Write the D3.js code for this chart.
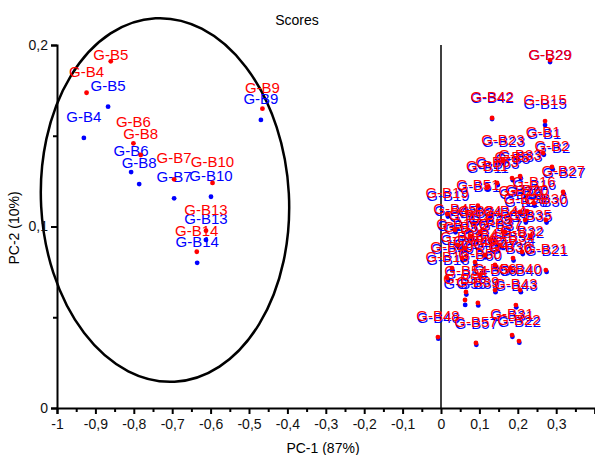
<!DOCTYPE html>
<html><head><meta charset="utf-8">
<script src="https://cdn.jsdelivr.net/npm/d3@7"></script>
<style>
html,body{margin:0;padding:0;background:#fff;}
svg{display:block;font-family:"Liberation Sans",Arial,sans-serif;}
</style></head>
<body>
<svg id="chart" width="595" height="455"></svg>
<script>
const samples = ["G-B4","G-B5","G-B6","G-B7","G-B8","G-B9","G-B10","G-B13","G-B14",
 "G-B1","G-B2","G-B3","G-B11","G-B12","G-B15","G-B16","G-B17","G-B18","G-B19","G-B20",
 "G-B21","G-B22","G-B23","G-B24","G-B25","G-B26","G-B27","G-B28","G-B29","G-B30",
 "G-B31","G-B32","G-B33","G-B34","G-B35","G-B36","G-B37","G-B38","G-B39","G-B40",
 "G-B41","G-B42","G-B43","G-B44","G-B45","G-B46","G-B47","G-B48","G-B49","G-B50",
 "G-B51","G-B52","G-B53","G-B54","G-B55","G-B56","G-B57"];
const redPC1 = [-0.923,-0.860,-0.801,-0.695,-0.782,-0.465,-0.595,-0.612,-0.636,
 0.266,0.289,0.185,0.120,0.0755,0.271,0.242,0.044,0.016,0.016,0.224,
 0.273,0.203,0.161,0.1016,0.1276,0.206,0.318,0.219,0.284,0.273,
 0.185,0.211,0.206,0.1875,0.232,0.180,0.154,0.0547,0.096,0.206,
 0.1146,0.133,0.195,0.1667,0.0365,0.0885,0.1406,-0.008,0.0286,0.1016,
 0.096,0.0625,0.146,0.065,0.0625,0.1406,0.091];
const redPC2 = [0.1737,0.1910,0.1458,0.1260,0.1394,0.1649,0.1240,0.0977,0.0861,
 0.1405,0.1328,0.1267,0.1218,0.0948,0.1581,0.1129,0.0898,0.0716,0.1069,0.1085,
 0.0760,0.0369,0.1361,0.0970,0.0926,0.1080,0.1190,0.1036,0.1917,0.1036,
 0.0402,0.0860,0.1278,0.0826,0.0948,0.0771,0.0898,0.0826,0.0579,0.0650,
 0.0843,0.1598,0.0567,0.0970,0.0981,0.0804,0.0788,0.0391,0.0771,0.0733,
 0.1115,0.0882,0.1240,0.0639,0.0595,0.0650,0.0358];
const bluePC1 = [-0.930,-0.867,-0.807,-0.695,-0.786,-0.469,-0.599,-0.612,-0.635,
 0.268,0.291,0.187,0.122,0.077,0.271,0.244,0.046,0.018,0.018,0.226,
 0.275,0.204,0.163,0.103,0.129,0.208,0.320,0.221,0.284,0.275,
 0.186,0.213,0.208,0.189,0.234,0.182,0.156,0.056,0.097,0.208,
 0.116,0.133,0.196,0.168,0.038,0.090,0.142,-0.007,0.030,0.103,
 0.098,0.064,0.148,0.066,0.063,0.142,0.092];
const bluePC2 = [0.1488,0.1660,0.1300,0.1155,0.1234,0.1587,0.1164,0.0926,0.0800,
 0.1395,0.1315,0.1255,0.1205,0.0935,0.1559,0.1115,0.0885,0.0700,0.1055,0.1072,
 0.0750,0.0360,0.1350,0.0958,0.0912,0.1066,0.1178,0.1022,0.1906,0.1022,
 0.0392,0.0848,0.1265,0.0812,0.0935,0.0758,0.0885,0.0812,0.0565,0.0638,
 0.0830,0.1592,0.0555,0.0958,0.0968,0.0790,0.0775,0.0382,0.0758,0.0720,
 0.1102,0.0868,0.1228,0.0625,0.0568,0.0638,0.0348];
const xTicks = [-1,-0.9,-0.8,-0.7,-0.6,-0.5,-0.4,-0.3,-0.2,-0.1,0,0.1,0.2,0.3];
const xMinor = [-0.95,-0.85,-0.75,-0.65,-0.55,-0.45,-0.35,-0.25,-0.15,-0.05,0.05,0.15,0.25,0.35];
const yTicks = [0,0.1,0.2];
const yMinor = [0.05,0.15];

const svg = d3.select("#chart");
const x = d3.scaleLinear().domain([-1,0.4]).range([57,594.6]);
const y = d3.scaleLinear().domain([0,0.2]).range([408,45]);
const fmt = d => Math.abs(d-Math.round(d))<1e-9 ? String(Math.round(d)) : d.toFixed(1).replace(".",",");

// ellipse
svg.append("ellipse")
  .attr("cx",165).attr("cy",200).attr("rx",124).attr("ry",182)
  .attr("transform","rotate(-3,165,200)")
  .attr("fill","none").attr("stroke","#000").attr("stroke-width",2.5);

// zero vertical line
svg.append("line").attr("x1",x(0)).attr("x2",x(0)).attr("y1",y(0.2)).attr("y2",y(0))
  .attr("stroke","#000").attr("stroke-width",1.5);

// x axis
svg.append("g").attr("transform",`translate(0,${y(0)})`)
  .call(d3.axisBottom(x).tickValues(xTicks).tickFormat(fmt).tickSizeOuter(0).tickSize(6).tickPadding(5));
svg.append("g").attr("transform",`translate(0,${y(0)})`)
  .call(d3.axisBottom(x).tickValues(xMinor).tickFormat("").tickSizeOuter(0).tickSize(4))
  .select(".domain").remove();
// y axis
svg.append("g").attr("transform",`translate(${x(-1)},0)`)
  .call(d3.axisLeft(y).tickValues(yTicks).tickFormat(fmt).tickSizeOuter(0).tickSize(6).tickPadding(3));
svg.append("g").attr("transform",`translate(${x(-1)},0)`)
  .call(d3.axisLeft(y).tickValues(yMinor).tickFormat("").tickSizeOuter(0).tickSize(4))
  .select(".domain").remove();
svg.selectAll(".domain").attr("stroke","#000").attr("stroke-width",2);
svg.selectAll(".tick line").attr("stroke","#000").attr("stroke-width",2);
svg.selectAll(".tick text").attr("font-size",14).attr("fill","#111")
  .attr("font-family","'Liberation Sans',Arial,sans-serif");

// titles
svg.append("text").attr("x",297).attr("y",25).attr("text-anchor","middle")
  .attr("font-size",14).text("Scores");
svg.append("text").attr("x",323).attr("y",453).attr("text-anchor","middle")
  .attr("font-size",14).text("PC-1 (87%)");
svg.append("text").attr("transform","translate(19,228) rotate(-90)").attr("text-anchor","middle")
  .attr("font-size",14).text("PC-2 (10%)");

function drawSeries(xs, ys, color){
  const g = svg.append("g");
  const data = samples.map((s,i)=>({s, px:x(xs[i]), py:y(ys[i])}));
  g.selectAll("circle").data(data).join("circle")
    .attr("cx",d=>d.px).attr("cy",d=>d.py).attr("r",2.4).attr("fill",color);
  g.selectAll("text").data(data).join("text")
    .attr("x",d=>d.px).attr("y",d=>Math.max(d.py-16,60))
    .attr("text-anchor","middle").attr("font-size",15).attr("fill",color).text(d=>d.s);
}
drawSeries(bluePC1, bluePC2, "#0000ff");
drawSeries(redPC1, redPC2, "#ff0000");
</script>
</body></html>
